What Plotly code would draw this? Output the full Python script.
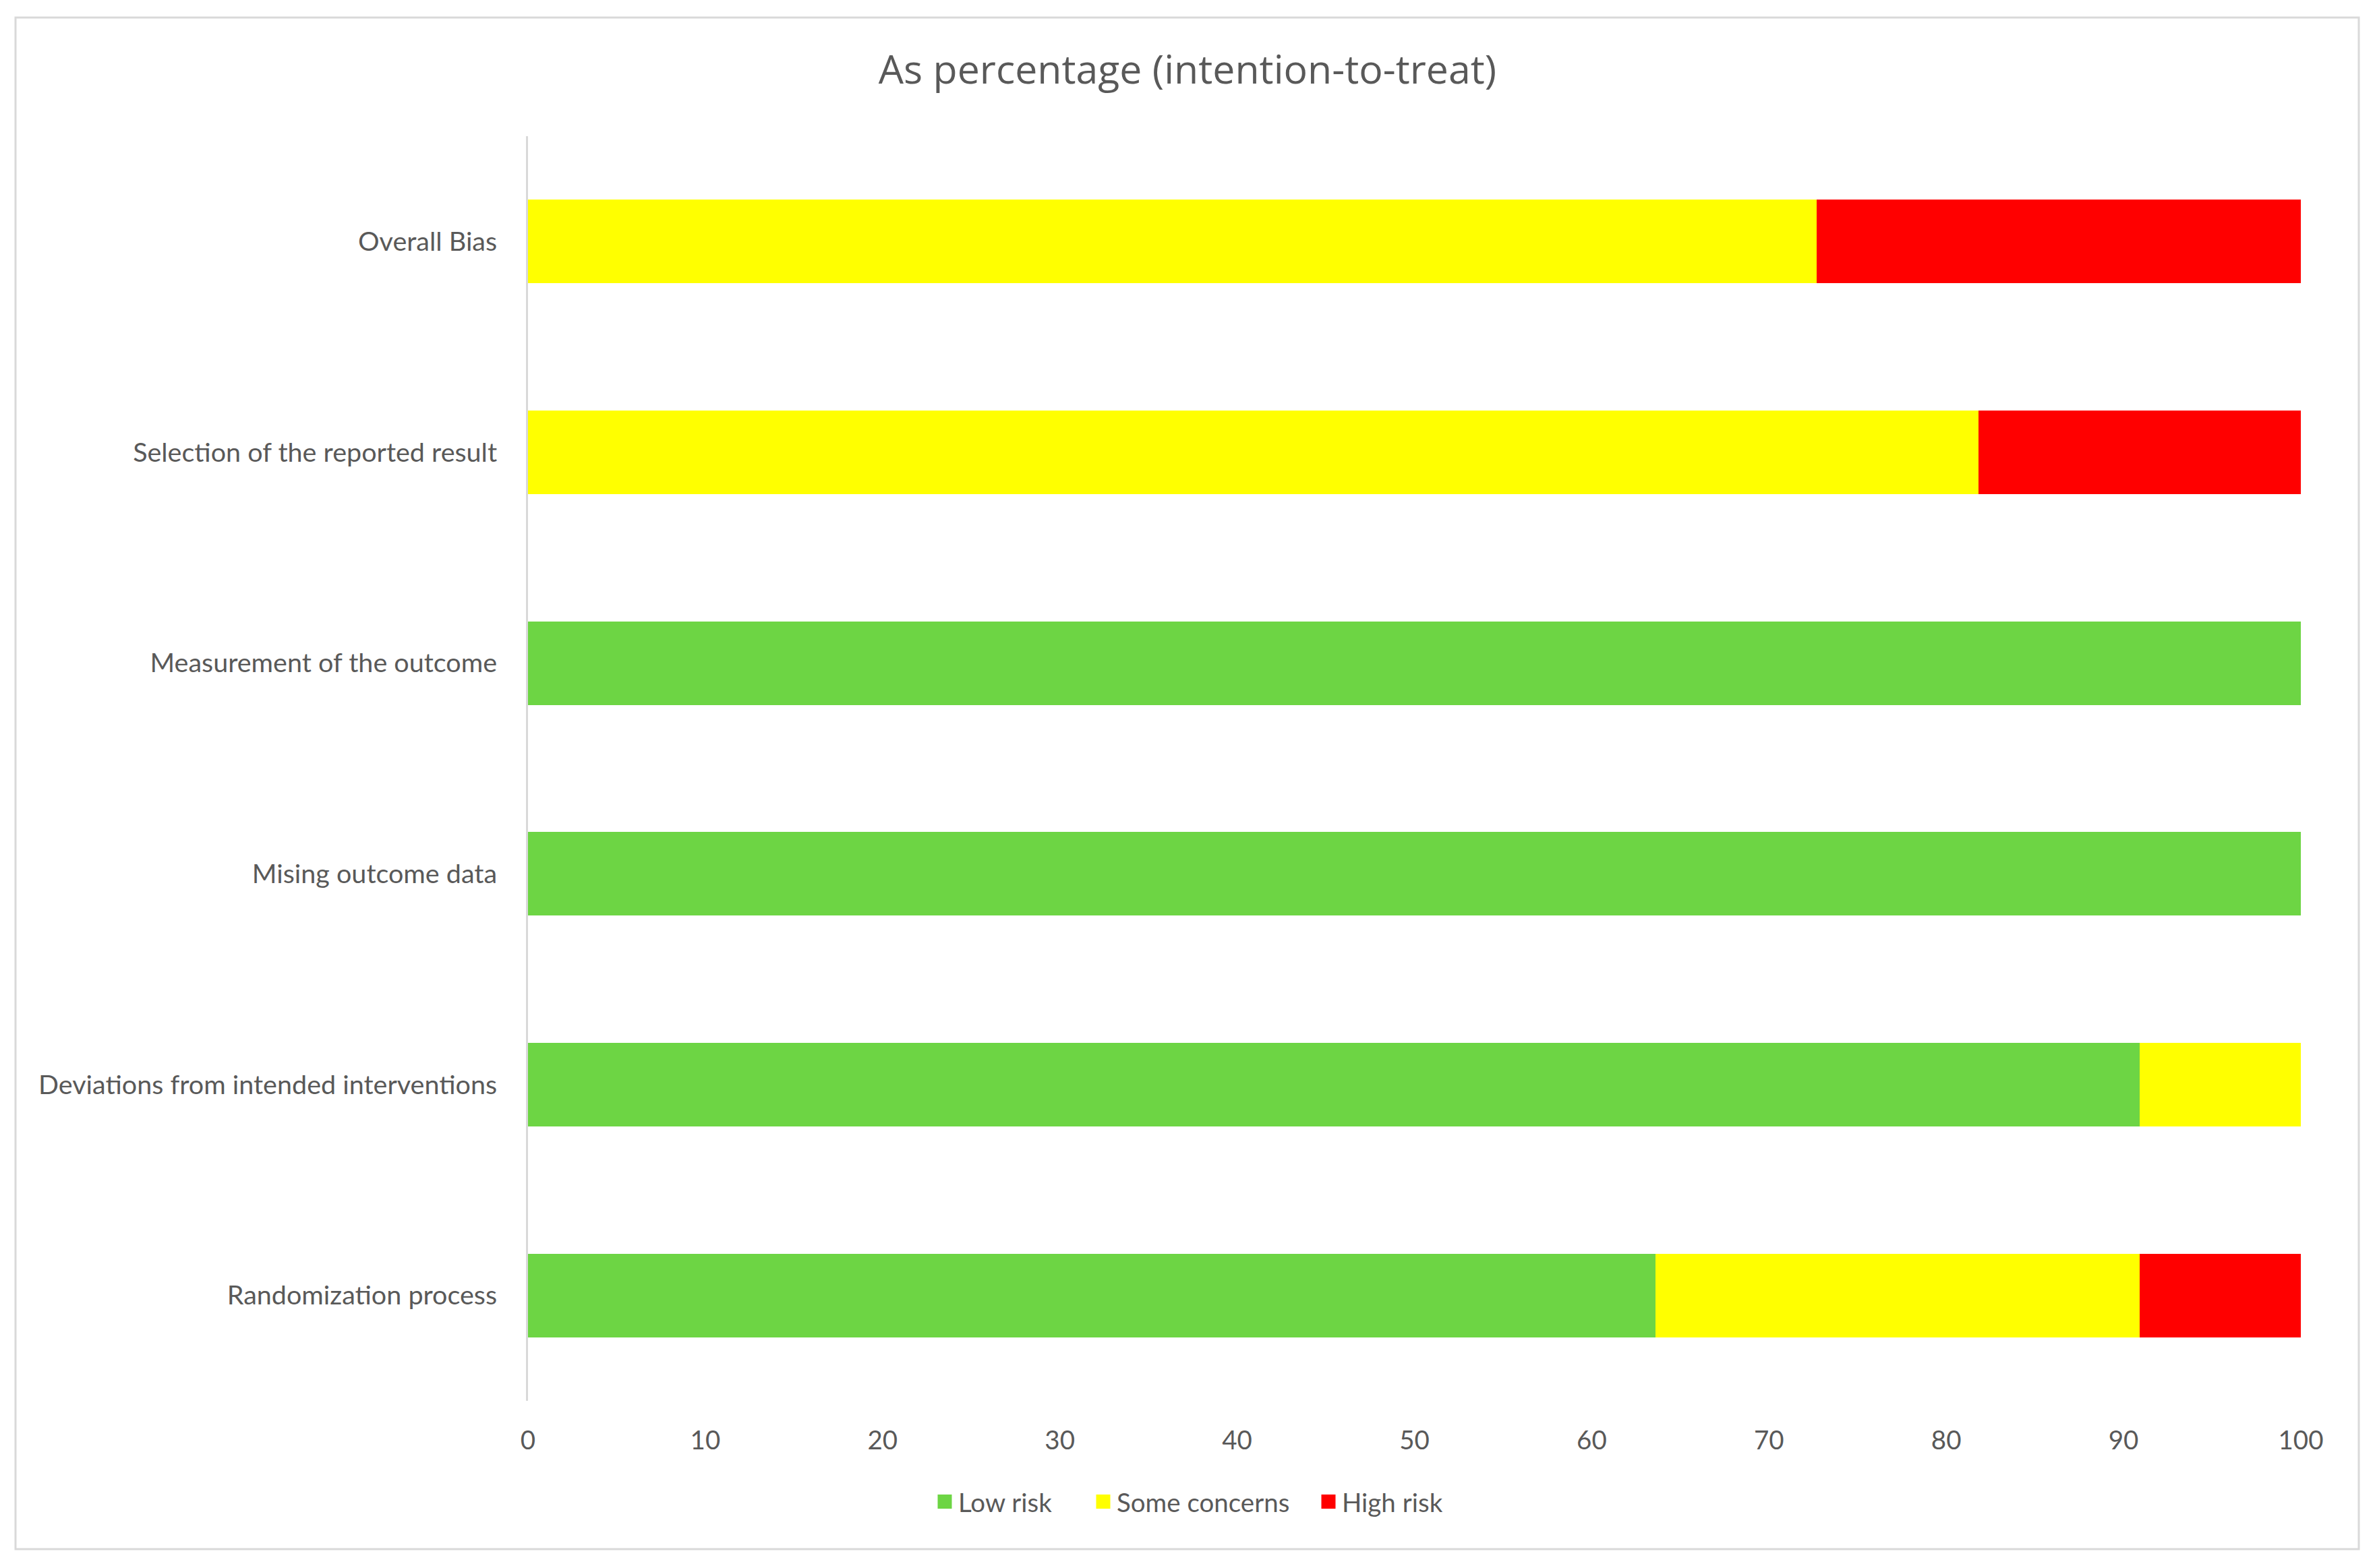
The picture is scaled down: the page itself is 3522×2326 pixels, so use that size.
import plotly.graph_objects as go

categories = ["Randomization process", "Deviations from intended interventions",
              "Mising outcome data", "Measurement of the outcome",
              "Selection of the reported result", "Overall Bias"]
low_risk = [63.6, 90.9, 100, 100, 0, 0]
some_concerns = [27.3, 9.1, 0, 0, 81.8, 72.7]
high_risk = [9.1, 0, 0, 0, 18.2, 27.3]
series_names = ["Low risk", "Some concerns", "High risk"]
colors = ["#6DD544", "#FFFF00", "#FF0000"]
x_ticks = [0, 10, 20, 30, 40, 50, 60, 70, 80, 90, 100]

W, H = 3522, 2326
L, R, T, B = 783, 110, 202, 248
pw, ph = W - L - R, H - T - B

label_font = "Lato, 'Open Sans', sans-serif"
title_font = "'Open Sans', Lato, sans-serif"
gray = "#595959"

fig = go.Figure()
series = [low_risk, some_concerns, high_risk]
legend_ids = ["legend", "legend2", "legend3"]
for name, vals, c in zip(series_names, series, colors):
    fig.add_trace(go.Bar(y=categories, x=vals, name=name, orientation="h",
                         marker=dict(color=c, line=dict(width=0)), showlegend=False))
# legend entries (one per series) with larger square swatches
for name, c, lg in zip(series_names, colors, legend_ids):
    fig.add_trace(go.Scatter(x=[None], y=[None], mode="markers", name=name, legend=lg,
                             marker=dict(symbol="square", size=16, color=c,
                                         line=dict(color=c, width=5)),
                             showlegend=True, hoverinfo="skip"))

legend_centers = [1401, 1636, 1970]  # swatch centre positions (px)
legend_y = -(2228 - (T + ph)) / ph
legend_layouts = {}
for lg, cx in zip(legend_ids, legend_centers):
    legend_layouts[lg] = dict(orientation="h", x=(cx - 20 - L) / pw, xanchor="left",
                              y=legend_y, yanchor="middle", itemsizing="trace",
                              font=dict(family=label_font, size=38.5, color=gray),
                              bgcolor="rgba(0,0,0,0)", borderwidth=0)

fig.update_layout(
    width=W, height=H, barmode="stack", bargap=0.603,
    margin=dict(l=L, r=R, t=T, b=B, autoexpand=False),
    paper_bgcolor="white", plot_bgcolor="white",
    title=dict(text="As percentage (intention-to-treat)", x=0.5, xref="container",
               xanchor="center", y=1 - 103 / H, yref="container", yanchor="middle",
               font=dict(family=title_font, size=59, color=gray)),
    font=dict(family=label_font, size=39, color=gray),
    showlegend=True,
    **legend_layouts,
)
fig.update_xaxes(range=[0, 100], tickvals=x_ticks, showgrid=False, zeroline=False,
                 showline=False, ticks="", ticklabelstandoff=32,
                 tickfont=dict(family=label_font, size=38.5, color=gray))
fig.update_yaxes(categoryorder="array", categoryarray=categories, range=[-0.5, 5.5],
                 showgrid=False, zeroline=False, showline=True, linecolor="#d9d9d9",
                 linewidth=3, ticks="", ticklabelstandoff=35,
                 tickfont=dict(family=label_font, size=39.5, color=gray))

# outer chart border
fig.add_shape(type="rect", xref="paper", yref="paper",
              x0=(23 - L) / pw, x1=(3498 - L) / pw,
              y0=-(2298 - (T + ph)) / ph, y1=((T + ph) - 26) / ph,
              line=dict(color="#d9d9d9", width=3), fillcolor="rgba(0,0,0,0)", layer="below")

fig.write_html("out.html", config={"displayModeBar": False},
               post_script="document.body.style.margin='0px';")
